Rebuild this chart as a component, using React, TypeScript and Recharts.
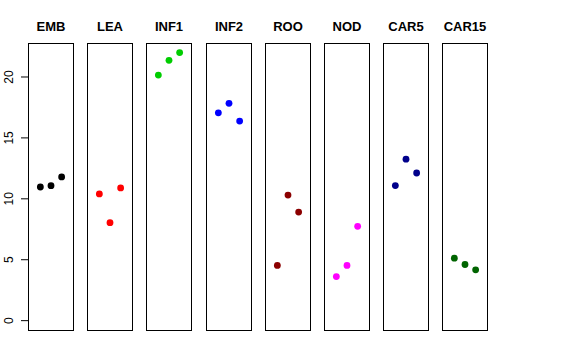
import { ScatterChart, Scatter, XAxis, YAxis } from 'recharts';

const panels = ['EMB', 'LEA', 'INF1', 'INF2', 'ROO', 'NOD', 'CAR5', 'CAR15'];
const colors = ['#000000', '#FF0000', '#00CD00', '#0000FF', '#8B0000', '#FF00FF', '#00008B', '#006400'];
const positions = [1, 2, 3];
const values = [
  [10.97, 11.08, 11.8],
  [10.4, 8.04, 10.89],
  [20.16, 21.37, 22.0],
  [17.06, 17.84, 16.38],
  [4.53, 10.31, 8.91],
  [3.62, 4.53, 7.74],
  [11.09, 13.25, 12.12],
  [5.13, 4.61, 4.17],
];
const yTicks = [0, 5, 10, 15, 20];

const xDomain = [-0.16, 4.16];
const yDomain = [-0.85, 22.79];

const TOP = 43;
const H = 288;
const W = 46;
const LEFT0 = 28;
const PITCH = 59.2;
const AXIS_W = 28;

function RotTick(props: any) {
  const { x, y, payload } = props;
  return (
    <text x={9.5} y={y} transform={`rotate(-90 9.5 ${y})`} textAnchor="middle" dominantBaseline="central"
      fontSize={12} fontFamily="Liberation Sans, Arial, sans-serif" fill="#000">
      {payload.value}
    </text>
  );
}

function Dot(props: any) {
  const { cx, cy, fill } = props;
  return <circle cx={cx} cy={cy} r={3.4} fill={fill} />;
}

function Panel({ i }: { i: number }) {
  const left = Math.round(LEFT0 + i * PITCH);
  const first = i === 0;
  const data = positions.map((p, k) => ({ x: p, y: values[i][k] }));
  return (
    <>
      <div style={{
        position: 'absolute', left, top: TOP, width: W, height: H,
        border: '1px solid #000', boxSizing: 'border-box',
      }} />
      <div style={{
        position: 'absolute', left: left - 20, width: W + 40, top: 19,
        textAlign: 'center', fontFamily: 'Liberation Sans, Arial, sans-serif',
        fontWeight: 'bold', fontSize: 13, lineHeight: '16px',
      }}>{panels[i]}</div>
      <div style={{ position: 'absolute', left: first ? left - AXIS_W : left, top: TOP }}>
        <ScatterChart width={first ? W + AXIS_W : W} height={H} margin={{ top: 0, right: 0, bottom: 0, left: 0 }}>
          <XAxis type="number" dataKey="x" domain={xDomain} hide />
          <YAxis type="number" dataKey="y" domain={yDomain} hide={!first} width={AXIS_W}
            ticks={yTicks} axisLine={false} tickSize={7} tickLine={{ stroke: '#000' }}
            tick={<RotTick />} interval={0} allowDataOverflow />
          <Scatter data={data} fill={colors[i]} shape={<Dot />} isAnimationActive={false} />
        </ScatterChart>
      </div>
    </>
  );
}

export default function App() {
  return (
    <div style={{ position: 'absolute', left: 0, top: 0, width: 576, height: 360, background: '#fff' }}>
      {panels.map((_, i) => <Panel key={i} i={i} />)}
    </div>
  );
}
